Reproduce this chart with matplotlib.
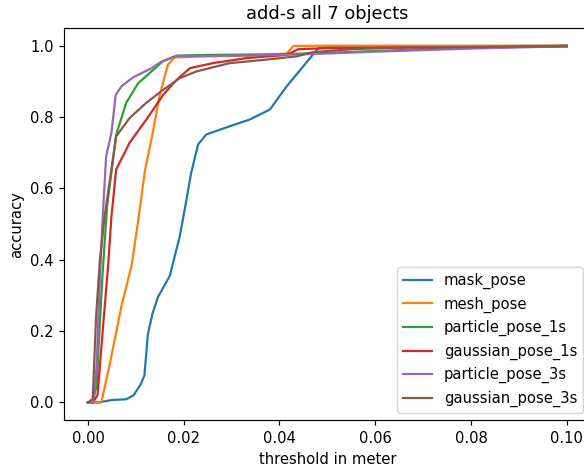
import matplotlib
matplotlib.use("Agg")
import matplotlib.pyplot as plt

# data
mask_x = [0, 0.002, 0.003, 0.005, 0.008, 0.0095, 0.011, 0.0118, 0.0125, 0.0135, 0.0146, 0.0171,
          0.0192, 0.0206, 0.0215, 0.023, 0.0247, 0.0296, 0.0338, 0.038, 0.0415, 0.0449, 0.0481,
          0.05, 0.06, 0.08, 0.1]
mask_y = [0, 0, 0.002, 0.007, 0.009, 0.02, 0.05, 0.076, 0.19, 0.25, 0.295, 0.355,
          0.467, 0.57, 0.64, 0.723, 0.751, 0.774, 0.793, 0.821, 0.886, 0.941, 0.993,
          0.996, 0.997, 0.998, 1.0]

mesh_x = [0, 0.0028, 0.0045, 0.007, 0.0091, 0.0105, 0.0119, 0.0133, 0.015, 0.0167, 0.0181,
          0.025, 0.035, 0.0415, 0.0429, 0.05, 0.1]
mesh_y = [0, 0, 0.104, 0.27, 0.383, 0.51, 0.65, 0.74, 0.862, 0.947, 0.967,
          0.97, 0.972, 0.978, 0.999, 1.0, 1.0]

particle1_x = [0, 0.001, 0.0018, 0.003, 0.004, 0.0059, 0.008, 0.0105, 0.0133, 0.0157, 0.0185,
               0.025, 0.04, 0.05, 0.07, 0.1]
particle1_y = [0, 0, 0.048, 0.35, 0.55, 0.751, 0.84, 0.895, 0.928, 0.957, 0.972,
               0.974, 0.976, 0.98, 0.99, 1.0]

gaussian1_x = [0, 0.001, 0.002, 0.0032, 0.0042, 0.0049, 0.0059, 0.0087, 0.0122, 0.0157, 0.0185,
               0.0213, 0.0261, 0.0331, 0.0415, 0.0439, 0.05, 0.1]
gaussian1_y = [0, 0, 0.02, 0.22, 0.38, 0.52, 0.653, 0.728, 0.793, 0.862, 0.904,
               0.937, 0.951, 0.965, 0.974, 0.99, 0.993, 0.998]

particle3_x = [0, 0.001, 0.0018, 0.0025, 0.0031, 0.0038, 0.0049, 0.0058, 0.007, 0.0094, 0.0133,
               0.0153, 0.0185, 0.03, 0.04, 0.05, 0.06, 0.08, 0.1]
particle3_y = [0, 0, 0.1, 0.35, 0.523, 0.69, 0.755, 0.862, 0.886, 0.911, 0.937,
               0.955, 0.971, 0.972, 0.974, 0.978, 0.983, 0.992, 0.998]

gaussian3_x = [0, 0.001, 0.0017, 0.0025, 0.0035, 0.0059, 0.0087, 0.0122, 0.0157, 0.0192, 0.0227,
               0.0296, 0.0366, 0.0436, 0.047, 0.055, 0.066, 0.1]
gaussian3_y = [0, 0.01, 0.24, 0.4, 0.523, 0.746, 0.797, 0.84, 0.876, 0.909, 0.928,
               0.951, 0.96, 0.97, 0.982, 0.99, 0.995, 0.998]

# reference looks like a default figure drawn at ~106 dpi and cropped
dpi = 106.2
fig = plt.figure(figsize=(584 / dpi, 469 / dpi), dpi=dpi)
ax = fig.add_axes([0.1096, 0.1038, 0.9019, 0.8369])

ax.plot(mask_x, mask_y, label="mask_pose")
ax.plot(mesh_x, mesh_y, label="mesh_pose")
ax.plot(particle1_x, particle1_y, label="particle_pose_1s")
ax.plot(gaussian1_x, gaussian1_y, label="gaussian_pose_1s")
ax.plot(particle3_x, particle3_y, label="particle_pose_3s")
ax.plot(gaussian3_x, gaussian3_y, label="gaussian_pose_3s")

ax.set_title("add-s all 7 objects")
ax.set_xlabel("threshold in meter")
ax.set_ylabel("accuracy")
ax.legend(loc="lower right")

fig.savefig("out.png", dpi=dpi)
